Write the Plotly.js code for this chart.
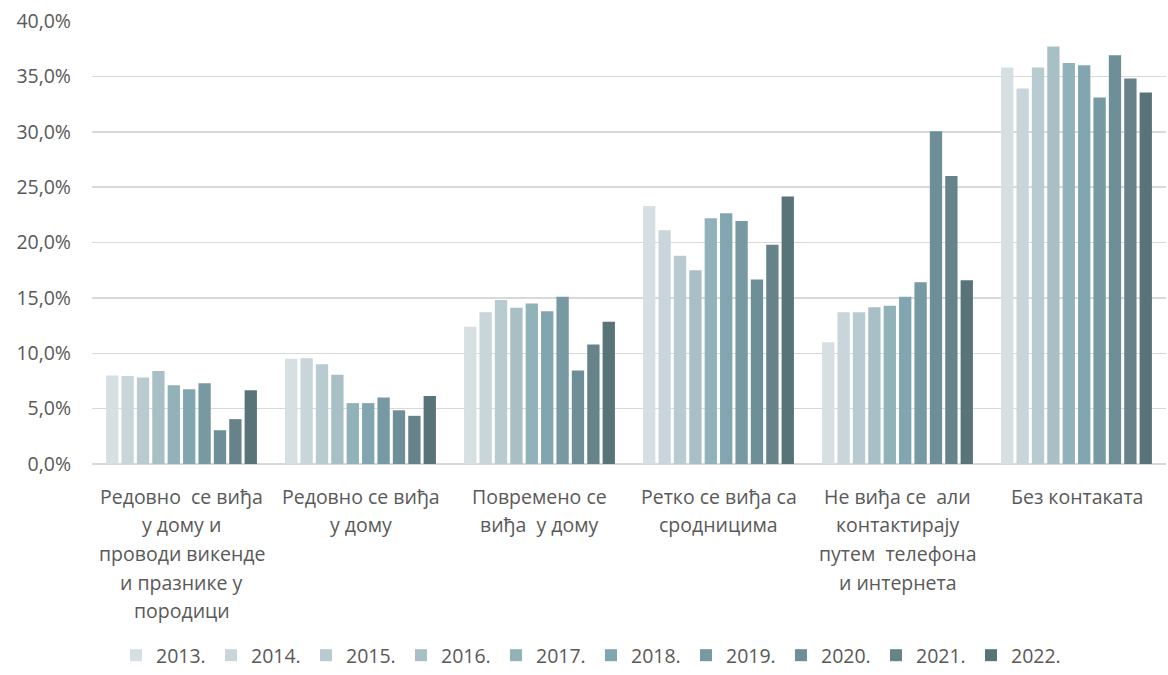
<!DOCTYPE html>
<html>
<head>
<meta charset="utf-8">
<script src="https://cdn.plot.ly/plotly-3.0.1.min.js"></script>
<style>html,body{margin:0;padding:0;background:#fff;}#chart{width:1168px;height:675px;}</style>
</head>
<body>
<div id="chart"></div>
<script>
const categories = [
  "Редовно  се виђа<br>у дому и<br>проводи викенде<br>и празнике у<br>породици",
  "Редовно се виђа<br>у дому",
  "Повремено се<br>виђа  у дому",
  "Ретко се виђа са<br>сродницима",
  "Не виђа се  али<br>контактирају<br>путем  телефона<br>и интернета",
  "Без контаката"
];
const years = ["2013.","2014.","2015.","2016.","2017.","2018.","2019.","2020.","2021.","2022."];
const v2013 = [8.0, 9.5, 12.4, 23.3, 11.0, 35.8];
const v2014 = [7.95, 9.55, 13.7, 21.1, 13.7, 33.9];
const v2015 = [7.8, 9.0, 14.8, 18.8, 13.7, 35.8];
const v2016 = [8.4, 8.05, 14.1, 17.5, 14.15, 37.7];
const v2017 = [7.1, 5.5, 14.5, 22.2, 14.3, 36.2];
const v2018 = [6.75, 5.5, 13.8, 22.65, 15.1, 36.0];
const v2019 = [7.3, 6.0, 15.1, 21.95, 16.4, 33.1];
const v2020 = [3.05, 4.85, 8.45, 16.65, 30.05, 36.9];
const v2021 = [4.05, 4.35, 10.8, 19.8, 26.0, 34.8];
const v2022 = [6.65, 6.15, 12.85, 24.15, 16.6, 33.55];
const series = [v2013,v2014,v2015,v2016,v2017,v2018,v2019,v2020,v2021,v2022];
const colors = ["#d6dfe2","#c8d6db","#b7cbd0","#a8bfc6","#92b2ba","#82a6af","#7799a2","#6e8f97","#66838a","#587479"];

const traces = series.map((vals, i) => ({
  type: "bar",
  name: years[i],
  x: categories,
  y: vals,
  marker: {color: colors[i], line: {width: 0}},
  hoverinfo: "x+y+name"
}));

const font = "Open Sans, Noto Sans, Liberation Sans, sans-serif";
const fsize = 19.5;
const txtColor = "#595959";
const lineHeight = 28.7;

// category labels drawn as annotations (one per line) for Excel-like line spacing
const annotations = [];
categories.forEach(cat => {
  cat.split("<br>").forEach((line, j) => {
    annotations.push({
      xref: "x", yref: "paper", x: cat, y: 0,
      text: line, showarrow: false,
      xanchor: "center", yanchor: "middle",
      yshift: -(32 + j * lineHeight),
      font: {family: font, size: fsize, color: txtColor}
    });
  });
});

const layout = {
  width: 1168, height: 675,
  margin: {l: 92, r: 2, t: 21, b: 211},
  paper_bgcolor: "#fff", plot_bgcolor: "#fff",
  barmode: "group",
  bargap: 0.14,
  bargroupgap: 0.2,
  separators: ",.",
  font: {family: font, size: fsize, color: txtColor},
  xaxis: {
    type: "category",
    showgrid: false, showline: false, zeroline: false,
    ticks: "", showticklabels: false,
    automargin: false
  },
  yaxis: {
    range: [0, 40], dtick: 5, tickformat: ".1f", ticksuffix: "%",
    showgrid: true, gridcolor: "#d9d9d9", gridwidth: 1.5,
    zeroline: true, zerolinecolor: "#d9d9d9", zerolinewidth: 1.5,
    showline: false, ticks: "", ticklabelstandoff: 20,
    tickfont: {family: font, size: fsize, color: txtColor},
    automargin: false
  },
  annotations: annotations,
  showlegend: true,
  legend: {
    orientation: "h", xref: "container", yref: "container",
    x: 0.0993, xanchor: "left", y: -0.006, yanchor: "bottom",
    entrywidth: 50, entrywidthmode: "pixels",
    font: {family: font, size: fsize, color: txtColor},
    itemsizing: "constant", traceorder: "normal"
  }
};
Plotly.newPlot("chart", traces, layout, {displayModeBar: false, staticPlot: true});
</script>
</body>
</html>
